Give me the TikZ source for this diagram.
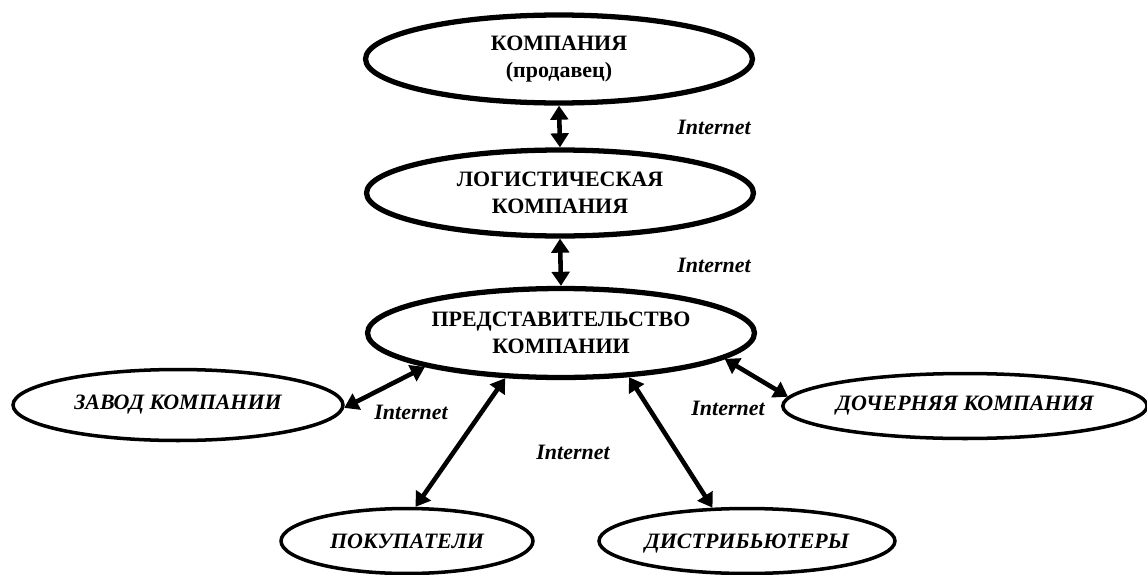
\documentclass[tikz,border=0pt]{standalone}
\usepackage{fontspec}
\setmainfont{Liberation Serif}[BoldFont={Liberation Serif Bold},ItalicFont={Liberation Serif Italic},BoldItalicFont={Liberation Serif Bold Italic}]
\usetikzlibrary{shapes.geometric,arrows.meta}
\begin{document}
\begin{tikzpicture}[x=0.02cm,y=-0.02cm,
  bigell/.style={ellipse,draw,line width=3pt,inner sep=0pt,align=center,
    font=\fontsize{12.5}{15.3}\selectfont\bfseries},
  smallell/.style={ellipse,draw,line width=2pt,inner sep=0pt,align=center,
    font=\fontsize{12.5}{15}\selectfont\bfseries\itshape},
  link/.style={line width=2.6pt,
    {Triangle[length=8pt,width=10pt]}-{Triangle[length=8pt,width=10pt]}},
  netlbl/.style={font=\fontsize{12.5}{14}\selectfont\bfseries\itshape}]
\useasboundingbox (0,0) rectangle (1147,575);
\node[bigell,minimum width=7.74cm,minimum height=1.76cm] (top) at (559,59) {КОМПАНИЯ\\(продавец)};
\node[bigell,minimum width=7.74cm,minimum height=1.72cm] (log) at (560,193) {ЛОГИСТИЧЕСКАЯ\\КОМПАНИЯ};
\node[bigell,minimum width=7.74cm,minimum height=1.78cm] (rep) at (561,333) {ПРЕДСТАВИТЕЛЬСТВО\\КОМПАНИИ};
\node[smallell,minimum width=6.6cm,minimum height=1.42cm] (zav) at (178,405) {ЗАВОД КОМПАНИИ};
\node[smallell,minimum width=5.04cm,minimum height=1.3cm] (pok) at (407,541) {ПОКУПАТЕЛИ};
\node[smallell,minimum width=5.92cm,minimum height=1.3cm] (dis) at (747,541) {ДИСТРИБЬЮТЕРЫ\vphantom{Й}};
\node[smallell,minimum width=7.2cm,minimum height=1.3cm] (doc) at (965,406) {ДОЧЕРНЯЯ КОМПАНИЯ};
\draw[link] (top.south) -- (log.north);
\draw[link] (log.south) -- (rep.north);
\draw[link] (rep.194) -- (zav.-1);
\draw[link] (rep.219.5) -- (pok.76.8);
\draw[link] (rep.-33.7) -- (dis.136);
\draw[link] (rep.-9.7) -- (doc.177.4);
\node[netlbl] (n1) at (714,127) {Internet};
\node[netlbl] (n2) at (714,265) {Internet};
\node[netlbl] (n3) at (411,412) {Internet};
\node[netlbl] (n4) at (573,452) {Internet};
\node[netlbl] (n5) at (728,408) {Internet};
\end{tikzpicture}
\end{document}
